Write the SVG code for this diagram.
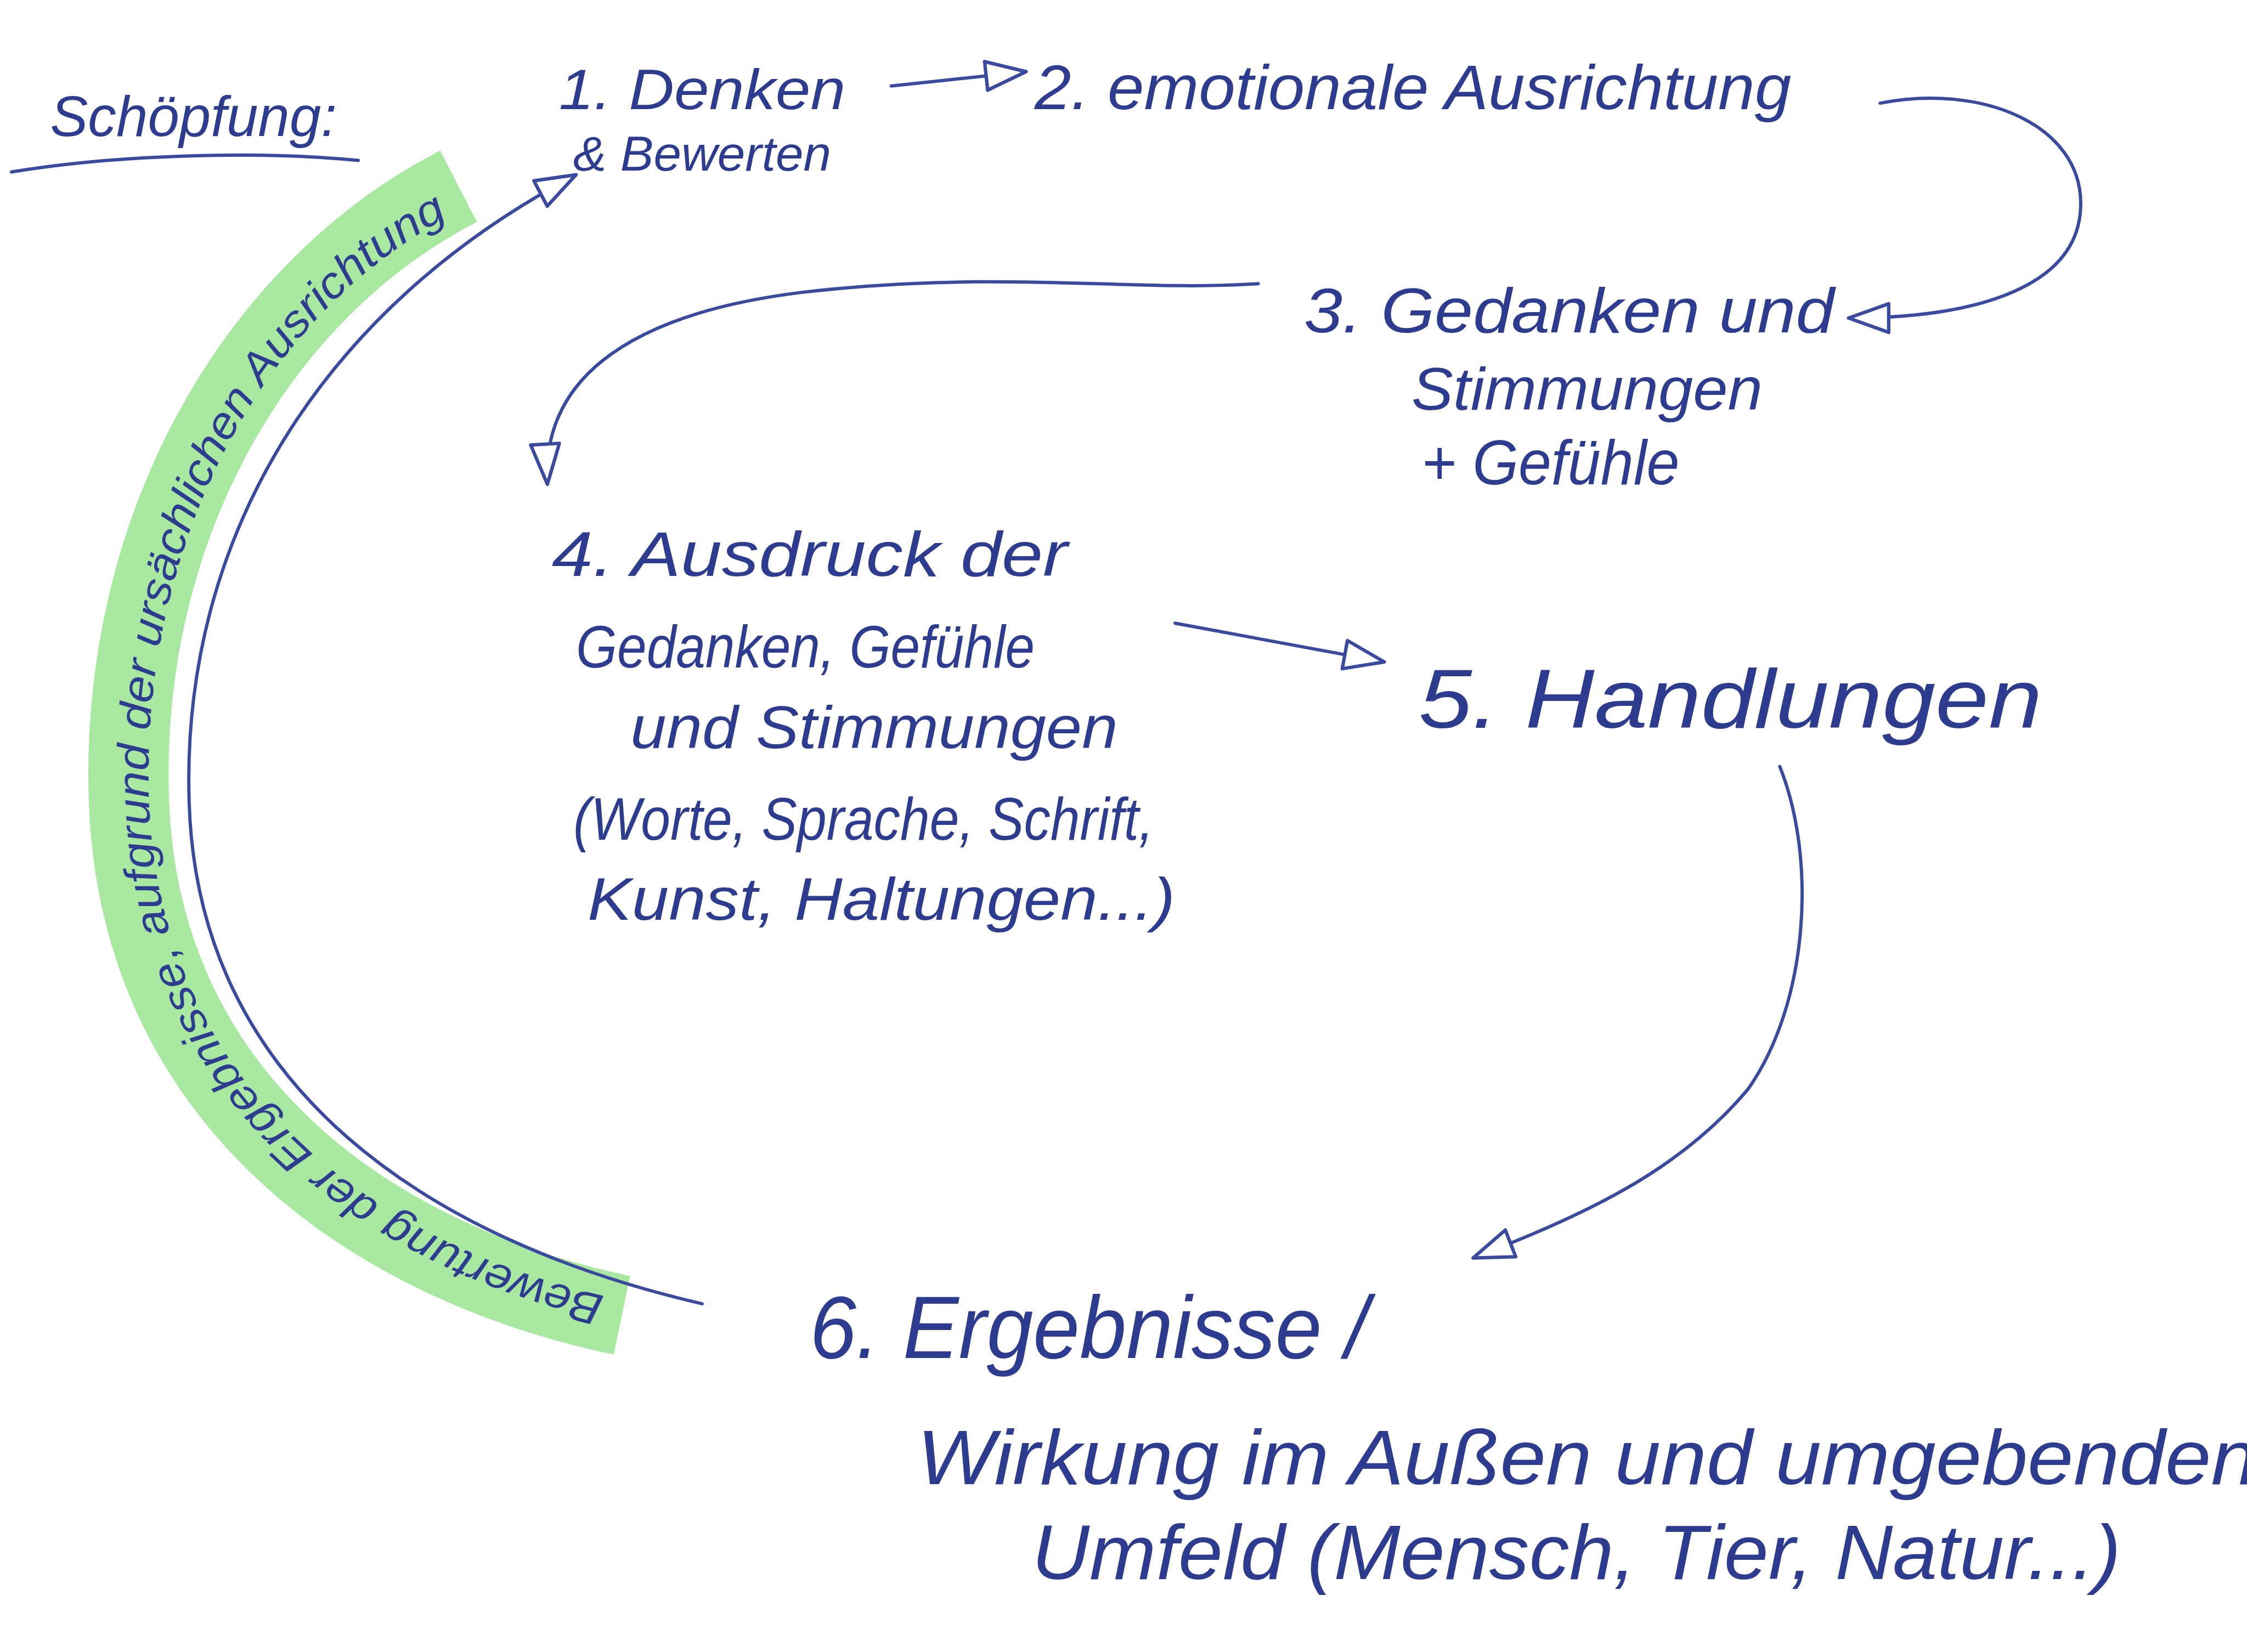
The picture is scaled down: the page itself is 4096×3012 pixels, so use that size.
<svg xmlns="http://www.w3.org/2000/svg" width="4096" height="3012" viewBox="0 0 4096 3012">
<defs>
<style>
.t{font-family:"Liberation Sans","DejaVu Sans",sans-serif;font-style:italic;fill:#2e3c8f;}
.c{fill:none;stroke:#3a4a9e;stroke-width:2.3;stroke-linecap:round;stroke-linejoin:round;}
</style>
<marker id="tri" markerUnits="userSpaceOnUse" viewBox="0 0 34 26" markerWidth="34" markerHeight="26" refX="31" refY="13" orient="auto">
<path d="M3,3 L31,13 L3,23 Z" fill="#ffffff" stroke="#3a4a9e" stroke-width="2.4" stroke-linejoin="round"/>
</marker>
<path id="arcText" d="M 428,906 C 262,870 112,760 104,560 C 97,372 190,210 324,146"/>
</defs>
<rect width="4096" height="3012" fill="#ffffff"/>
<g transform="scale(2.6122)">
<g id="band">
<path d="M 434,918 C 262,882 98,770 90,560 C 83,370 178,203 320,130" fill="none" stroke="#9fe597" stroke-opacity="0.9" stroke-width="56"/>
<text class="t" font-size="31"><textPath href="#arcText" startOffset="6" textLength="990" lengthAdjust="spacingAndGlyphs">Bewertung der Ergebnisse, aufgrund der ursächlichen Ausrichtung</textPath></text>
</g>
<g id="title">
<text class="t" x="35" y="95" font-size="40" textLength="200" lengthAdjust="spacingAndGlyphs">Schöpfung:</text>
<path class="c" d="M 8,120 C 80,108 180,105 250,112"/>
</g>
<g id="n1">
<text class="t" x="390" y="76" font-size="40" textLength="200" lengthAdjust="spacingAndGlyphs">1. Denken</text>
<text class="t" x="400" y="119" font-size="34" textLength="180" lengthAdjust="spacingAndGlyphs">&amp; Bewerten</text>
</g>
<g id="n2">
<text class="t" x="722" y="76" font-size="44" textLength="528" lengthAdjust="spacingAndGlyphs">2. emotionale Ausrichtung</text>
</g>
<g id="n3">
<text class="t" x="910" y="232" font-size="44" textLength="370" lengthAdjust="spacingAndGlyphs">3. Gedanken und</text>
<text class="t" x="985" y="286" font-size="42" textLength="245" lengthAdjust="spacingAndGlyphs">Stimmungen</text>
<text class="t" x="992" y="338" font-size="44" textLength="180" lengthAdjust="spacingAndGlyphs">+ Gefühle</text>
</g>
<g id="n4">
<text class="t" x="385" y="402" font-size="44" textLength="360" lengthAdjust="spacingAndGlyphs">4. Ausdruck der</text>
<text class="t" x="402" y="466" font-size="42" textLength="320" lengthAdjust="spacingAndGlyphs">Gedanken, Gefühle</text>
<text class="t" x="440" y="522" font-size="42" textLength="340" lengthAdjust="spacingAndGlyphs">und Stimmungen</text>
<text class="t" x="400" y="586" font-size="42" textLength="405" lengthAdjust="spacingAndGlyphs">(Worte, Sprache, Schrift,</text>
<text class="t" x="410" y="642" font-size="42" textLength="410" lengthAdjust="spacingAndGlyphs">Kunst, Haltungen...)</text>
</g>
<g id="n5">
<text class="t" x="990" y="508" font-size="58" textLength="435" lengthAdjust="spacingAndGlyphs">5. Handlungen</text>
</g>
<g id="n6">
<text class="t" x="565" y="948" font-size="62" textLength="390" lengthAdjust="spacingAndGlyphs">6. Ergebnisse /</text>
<text class="t" x="640" y="1036" font-size="54" textLength="935" lengthAdjust="spacingAndGlyphs">Wirkung im Außen und umgebenden</text>
<text class="t" x="720" y="1102" font-size="54" textLength="760" lengthAdjust="spacingAndGlyphs">Umfeld (Mensch, Tier, Natur...)</text>
</g>
<g id="connectors">
<path class="c" d="M 622,60 L 716,50" marker-end="url(#tri)"/>
<path class="c" d="M 1312,72 C 1385,58 1452,88 1452,142 C 1452,200 1380,222 1290,222" marker-end="url(#tri)"/>
<path class="c" d="M 878,198 C 790,204 700,188 560,204 C 430,220 378,270 382,338" marker-end="url(#tri)"/>
<path class="c" d="M 820,435 L 966,462" marker-end="url(#tri)"/>
<path class="c" d="M 1242,535 C 1268,600 1262,700 1220,760 C 1170,820 1100,850 1028,878" marker-end="url(#tri)"/>
<path class="c" d="M 490,910 C 300,866 138,760 132,560 C 126,375 225,215 402,122" marker-end="url(#tri)"/>
</g>
</g>
</svg>
